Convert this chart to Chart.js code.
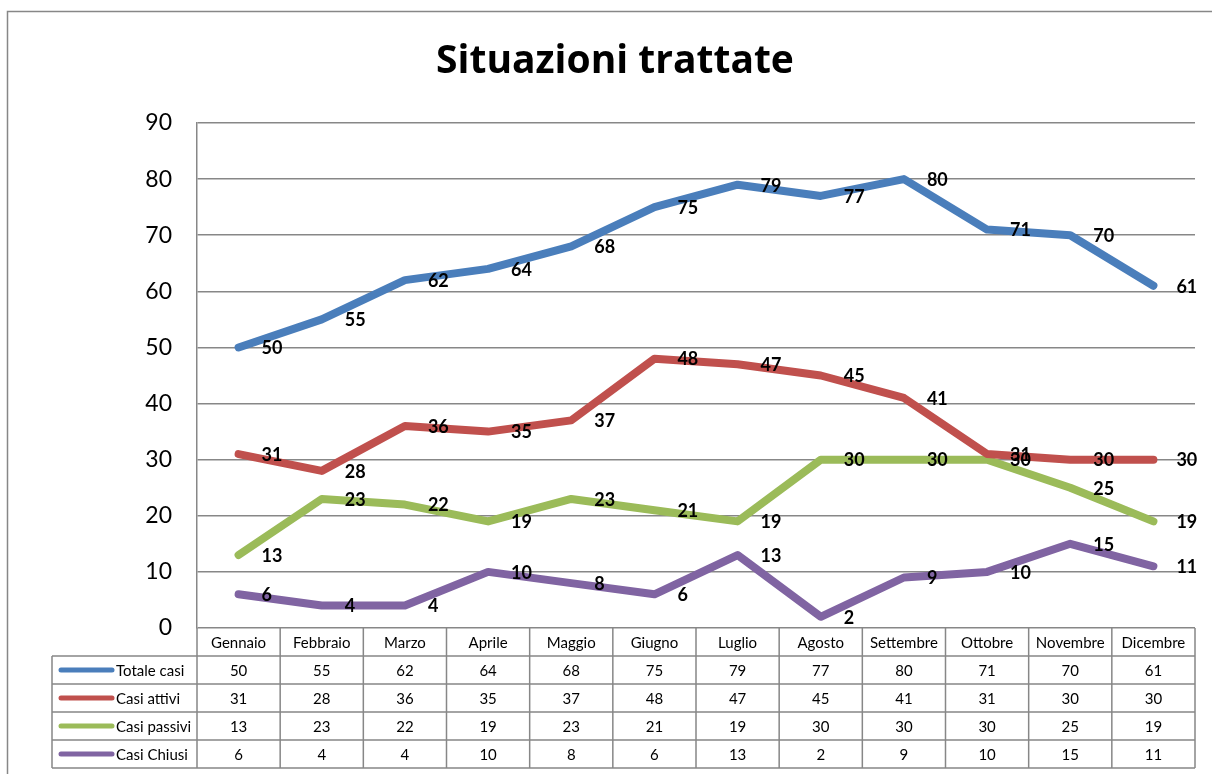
<!DOCTYPE html>
<html>
<head>
<meta charset="utf-8">
<script src="https://cdn.jsdelivr.net/npm/chart.js@4"></script>
<style>
  body { margin: 0; background: #fff; }
  #wrap { width: 1212px; height: 774px; }
</style>
</head>
<body>
<div id="wrap"><canvas id="chart" width="1212" height="774"></canvas></div>
<script>
// dati
const mesi = ['Gennaio', 'Febbraio', 'Marzo', 'Aprile', 'Maggio', 'Giugno', 'Luglio', 'Agosto', 'Settembre', 'Ottobre', 'Novembre', 'Dicembre'];
const totaleCasi = [50, 55, 62, 64, 68, 75, 79, 77, 80, 71, 70, 61];
const casiAttivi = [31, 28, 36, 35, 37, 48, 47, 45, 41, 31, 30, 30];
const casiPassivi = [13, 23, 22, 19, 23, 21, 19, 30, 30, 30, 25, 19];
const casiChiusi = [6, 4, 4, 10, 8, 6, 13, 2, 9, 10, 15, 11];
const yTicks = [0, 10, 20, 30, 40, 50, 60, 70, 80, 90];

const FONT = 'Lato, "Open Sans", sans-serif';
const GRID = '#878787';

function serie(label, data, color) {
  return {
    label: label,
    data: data,
    borderColor: color,
    backgroundColor: color,
    borderWidth: 8,
    borderCapStyle: 'round',
    borderJoinStyle: 'round',
    pointRadius: 0,
    tension: 0,
    fill: false
  };
}

// titolo, cornice, etichette e tabella dati
const decorPlugin = {
  id: 'decor',
  beforeDraw(chart) {
    const ctx = chart.ctx;
    ctx.save();
    ctx.fillStyle = '#fff';
    ctx.fillRect(0, 0, chart.width, chart.height);
    ctx.strokeStyle = GRID;
    ctx.lineWidth = 1.5;
    ctx.strokeRect(7.5, 11.5, 1400, 1000);
    ctx.fillStyle = '#000';
    ctx.font = 'bold 39px "Open Sans", Lato, sans-serif';
    ctx.textAlign = 'center';
    ctx.textBaseline = 'alphabetic';
    ctx.fillText('Situazioni trattate', 615, 73);
    ctx.restore();
  },
  afterDatasetsDraw(chart) {
    const ctx = chart.ctx;
    ctx.save();
    ctx.fillStyle = '#000';
    ctx.font = 'bold 18px ' + FONT;
    ctx.textAlign = 'left';
    ctx.textBaseline = 'middle';
    chart.data.datasets.forEach((ds, i) => {
      chart.getDatasetMeta(i).data.forEach((pt, j) => {
        ctx.fillText(String(ds.data[j]), pt.x + 23, pt.y + 1);
      });
    });
    ctx.restore();
  },
  afterDraw(chart) {
    const ctx = chart.ctx;
    const xs = chart.scales.x;
    const area = chart.chartArea;
    const w = (area.right - area.left) / mesi.length;
    const top = area.bottom;
    const rowH = 28;
    const legL = 52;
    const nRows = chart.data.datasets.length;
    ctx.save();
    ctx.strokeStyle = GRID;
    ctx.lineWidth = 1.5;
    // righe orizzontali
    ctx.beginPath();
    ctx.moveTo(area.left, top + rowH);
    ctx.lineTo(area.right, top + rowH);
    for (let r = 1; r <= nRows + 1; r++) {
      const y = top + rowH * r;
      ctx.moveTo(legL, y);
      ctx.lineTo(area.right, y);
    }
    // colonne
    for (let c = 0; c <= mesi.length; c++) {
      const x = area.left + w * c;
      ctx.moveTo(x, top);
      ctx.lineTo(x, top + rowH * (nRows + 1));
    }
    ctx.moveTo(legL, top + rowH);
    ctx.lineTo(legL, top + rowH * (nRows + 1));
    ctx.stroke();

    ctx.fillStyle = '#000';
    ctx.font = '15px ' + FONT;
    ctx.textBaseline = 'middle';
    ctx.textAlign = 'center';
    mesi.forEach((m, j) => {
      ctx.fillText(m, xs.getPixelForValue(j), top + rowH / 2 + 1);
    });
    chart.data.datasets.forEach((ds, i) => {
      const yc = top + rowH * (i + 1) + rowH / 2 + 1;
      ds.data.forEach((v, j) => {
        ctx.fillText(String(v), xs.getPixelForValue(j), yc);
      });
      // legenda
      ctx.save();
      ctx.strokeStyle = ds.borderColor;
      ctx.lineWidth = 5;
      ctx.lineCap = 'round';
      ctx.beginPath();
      ctx.moveTo(61, yc - 1);
      ctx.lineTo(112, yc - 1);
      ctx.stroke();
      ctx.restore();
      ctx.textAlign = 'left';
      ctx.fillText(ds.label, 116, yc);
      ctx.textAlign = 'center';
    });
    ctx.restore();
  }
};

new Chart(document.getElementById('chart'), {
  type: 'line',
  data: {
    labels: mesi,
    datasets: [
      serie('Totale casi', totaleCasi, '#4A7EBB'),
      serie('Casi attivi', casiAttivi, '#C0504D'),
      serie('Casi passivi', casiPassivi, '#9BBB59'),
      serie('Casi Chiusi', casiChiusi, '#8064A2')
    ]
  },
  options: {
    responsive: false,
    animation: false,
    layout: { padding: { top: 123, right: 17, left: 0, bottom: 0 } },
    plugins: {
      legend: { display: false },
      tooltip: { enabled: false },
      title: { display: false }
    },
    scales: {
      x: {
        offset: true,
        grid: { display: false },
        border: { display: false },
        ticks: { display: false },
        afterFit(scale) { scale.height = 146; }
      },
      y: {
        min: 0,
        max: 90,
        afterBuildTicks(scale) { scale.ticks = yTicks.map(v => ({ value: v })); },
        grid: { color: GRID, lineWidth: 1.5, drawTicks: false },
        border: { color: GRID, width: 1.5 },
        ticks: {
          padding: 25,
          color: '#000',
          font: { family: FONT, size: 23 }
        },
        afterFit(scale) { scale.width = 197; }
      }
    }
  },
  plugins: [decorPlugin]
});
</script>
</body>
</html>
